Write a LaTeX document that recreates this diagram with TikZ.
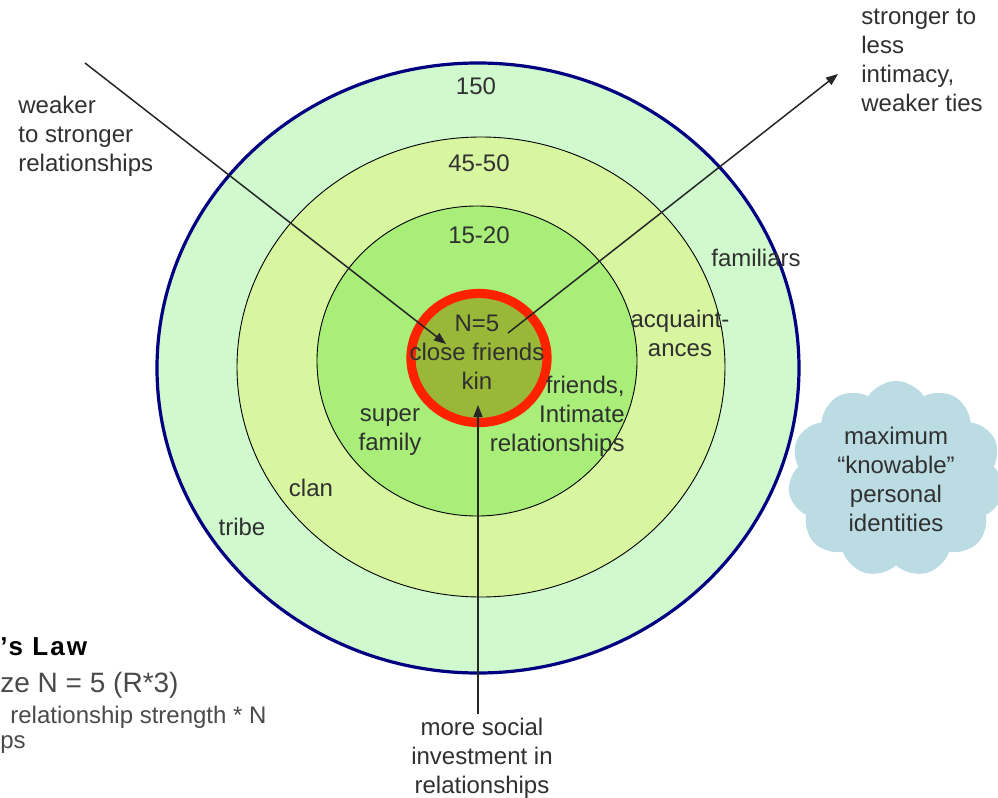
\documentclass[tikz,border=0pt]{standalone}
\usepackage{fontspec}
\setmainfont{Liberation Sans}
\usetikzlibrary{shapes.geometric,shapes.symbols,arrows.meta}

\definecolor{ringnavy}{HTML}{000080}
\definecolor{tribefill}{HTML}{D0F9CD}
\definecolor{clanfill}{HTML}{D8F5A0}
\definecolor{familyfill}{HTML}{A8EE78}
\definecolor{kinfill}{HTML}{9AB838}
\definecolor{kinring}{HTML}{FF2200}
\definecolor{cloudblue}{HTML}{BBDCE2}
\definecolor{labelgray}{HTML}{303030}
\definecolor{notegray}{HTML}{4A4A4A}

\begin{document}
\begin{tikzpicture}[x=0.5pt,y=-0.5pt,
  lbl/.style={font=\fontsize{12}{14.5}\selectfont, text=labelgray, align=center, inner sep=0pt},
  layer/.style={ellipse, inner sep=0pt, draw=black, line width=0.45pt},
  flow/.style={draw=black!85, line width=0.75pt, -{Triangle[length=6pt,width=4.5pt]}},
  note/.style={font=\fontsize{12}{14.5}\selectfont, text=notegray, anchor=west, inner sep=0pt},
]
\useasboundingbox (0,0) rectangle (998,798);

% concentric layers of relationships
\node[layer, fill=tribefill, draw=ringnavy, line width=1.6pt,
      minimum width=321pt, minimum height=305pt] (tribe) at (478,368) {};
\node[layer, fill=clanfill, minimum width=244pt, minimum height=230pt] (clan) at (481,367) {};
\node[layer, fill=familyfill, minimum width=160pt, minimum height=155pt] (family) at (477,361) {};
\node[layer, fill=kinfill, draw=kinring, line width=4.6pt,
      minimum width=68pt, minimum height=64.5pt] (kin) at (479,358) {};

% cloud note on the right
\node[cloud, cloud puffs=11, cloud puff arc=115, cloud ignores aspect,
      fill=cloudblue, minimum width=108pt, minimum height=98pt, lbl] (cloud) at (896,479)
  {maximum\\“knowable”\\personal\\identities};

% arrows through the layers
\coordinate (weakIn) at (85,63);
\coordinate (weakTip) at (446,344);
\coordinate (strongOut) at (508,333);
\coordinate (strongTip) at (838,74);
\coordinate (moreIn) at (478,714);
\coordinate (moreTip) at (478,405);
\draw[flow] (weakIn) -- (weakTip);
\draw[flow] (strongOut) -- (strongTip);
\draw[flow] (moreIn) -- (moreTip);

% layer sizes
\node[lbl] (n150) at (476,86) {150};
\node[lbl] (n45) at (479,163) {45-50};
\node[lbl] (n15) at (479,235) {15-20};
\node[lbl, align=center] (n5) at (477,352) {N=5\\close friends\\kin};

% layer names
\node[lbl] (familiars) at (756,258) {familiars};
\node[lbl] (acq) at (680,333) {acquaint-\\ances};
\node[lbl, align=right, anchor=east] (friends) at (625,416) {friends,\\Intimate\\relationships};
\node[lbl] (super) at (390,432) {super\\family};
\node[lbl] (clanlbl) at (311,488) {clan};
\node[lbl] (tribelbl) at (242,527) {tribe};

% arrow captions
\node[lbl, align=left, anchor=west] (weakTxt) at (18,136) {weaker\\to stronger\\relationships};
\node[lbl, align=left, anchor=west] (strongTxt) at (861,60) {stronger to\\less\\intimacy,\\weaker ties};
\node[lbl] (moreTxt) at (482,758) {more social\\investment in\\relationships};

% law notes at the lower left
\node[note, font=\fontsize{13}{15}\bfseries\addfontfeature{LetterSpace=8}, text=black] (law) at (0,647) {’s Law};
\node[note, font=\fontsize{14}{16}\selectfont] (size) at (0,685) {ze N = 5 (R*3)};
\node[note] (strength) at (10,717) {relationship strength * N};
\node[note] (ships) at (0,745) {ps};
\end{tikzpicture}
\end{document}
